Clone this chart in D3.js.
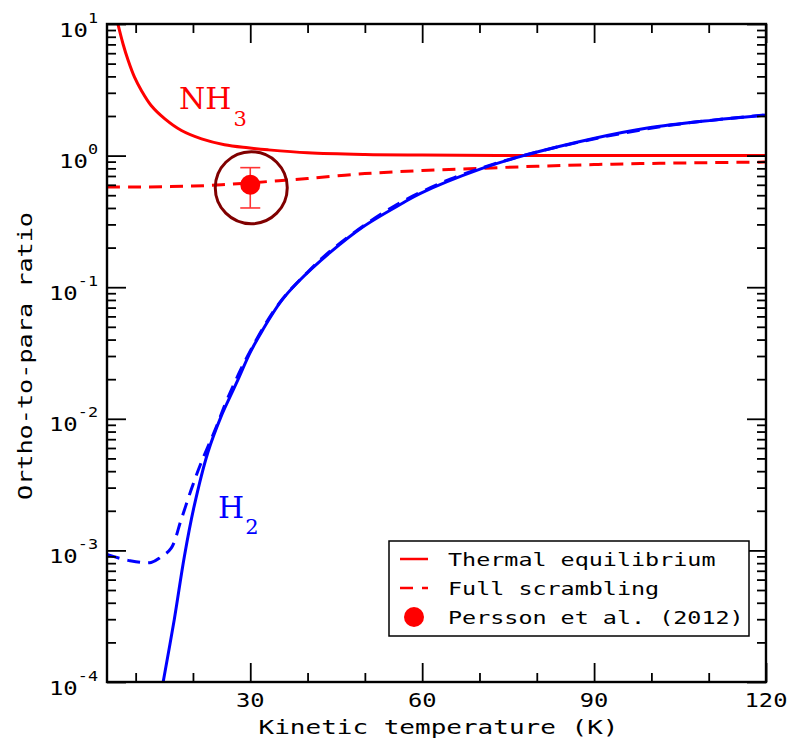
<!DOCTYPE html>
<html>
<head>
<meta charset="utf-8">
<script src="https://cdn.jsdelivr.net/npm/d3@7"></script>
<style>
  body { margin: 0; background: #fff; }
  text { font-family: 'DejaVu Sans Mono', monospace; }
</style>
</head>
<body>
<div id="chart"></div>
<script>
// NH3, thermal equilibrium (solid red)
const nh3ThermalT = [6.9, 7.8, 8.7, 9.8, 11, 12.7, 15.1, 18, 21.5, 25.5, 29.6, 33.1, 40, 50, 60, 80, 100, 120]
const nh3ThermalR = [10, 7.05, 5.27, 3.94, 3.12, 2.4, 1.9, 1.55, 1.34, 1.21, 1.146, 1.106, 1.05, 1.02, 1.01, 1.0, 1.0, 1.0]

// NH3, full scrambling (dashed red)
const nh3ScrambleT = [5, 10, 15, 20, 25, 30, 35, 40, 50, 60, 70, 80, 90, 100, 110, 120]
const nh3ScrambleR = [0.577, 0.577, 0.58, 0.587, 0.6, 0.62, 0.645, 0.67, 0.73, 0.77, 0.8, 0.83, 0.855, 0.872, 0.884, 0.893]

// H2, thermal equilibrium (solid blue)
const h2ThermalT = [14.8, 16.75, 18.5, 20.2, 22.6, 24.9, 26.5, 28, 30, 32.2, 35.2, 38.2, 43.9, 49.7, 56.7, 59.7, 70.1, 77.7, 89.9, 99.3, 110.8, 120]
const h2ThermalR = [1e-4, 3.0e-4, 9.0e-4, 2.16e-3, 5.55e-3, 0.0104, 0.0148, 0.0205, 0.032, 0.0476, 0.0764, 0.108, 0.183, 0.288, 0.438, 0.517, 0.79, 1.0, 1.35, 1.62, 1.86, 2.03]

// H2, full scrambling (dashed blue)
const h2ScrambleT = [5, 8.7, 12.7, 14.4, 16.2, 17.9, 19.7, 21.4, 23.9, 26.1, 30, 35, 40, 45, 55, 65, 75, 85, 95, 105, 120]
const h2ScrambleR = [9.3e-4, 8.4e-4, 8.1e-4, 8.9e-4, 1.04e-3, 1.69e-3, 2.9e-3, 4.6e-3, 8.3e-3, 0.0145, 0.0328, 0.075, 0.13, 0.205, 0.41, 0.665, 0.93, 1.2, 1.48, 1.74, 2.04]

// Persson et al. (2012)
const obsT = [30]
const obsR = [0.6]
const obsLow = [0.4]
const obsHigh = [0.81]

const xMajor = [30, 60, 90, 120]
const xMinor = [10, 20, 40, 50, 70, 80, 100, 110]
const yMajor = [1e-4, 1e-3, 1e-2, 1e-1, 1, 10]
const yExp = ['-4', '-3', '-2', '-1', '0', '1']
const yMinor = [-4, -3, -2, -1, 0].flatMap((e) => [2, 3, 4, 5, 6, 7, 8, 9].map((m) => m * Math.pow(10, e)))

const legendLabels = ['Thermal equilibrium', 'Full scrambling', 'Persson et al. (2012)']

const width = 791
const height = 740
const margin = { top: 24, right: 25, bottom: 58, left: 107 }

const x = d3.scaleLinear().domain([5, 120]).range([margin.left, width - margin.right])
const y = d3.scaleLog().domain([1e-4, 10]).range([height - margin.bottom, margin.top])

const svg = d3.select('#chart').append('svg').attr('width', width).attr('height', height)

svg
  .append('clipPath')
  .attr('id', 'plot')
  .append('rect')
  .attr('x', x(5))
  .attr('y', y(10))
  .attr('width', x(120) - x(5))
  .attr('height', y(1e-4) - y(10))

const line = d3
  .line()
  .x((d) => x(d[0]))
  .y((d) => y(d[1]))
  .curve(d3.curveCatmullRom.alpha(0.5))

const curves = [
  [nh3ThermalT, nh3ThermalR, '#ff0000', null],
  [nh3ScrambleT, nh3ScrambleR, '#ff0000', '13,8'],
  [h2ThermalT, h2ThermalR, '#0000ff', null],
  [h2ScrambleT, h2ScrambleR, '#0000ff', '13,8'],
]

const plot = svg.append('g').attr('clip-path', 'url(#plot)')

curves.forEach(([ts, rs, color, dash]) => {
  plot
    .append('path')
    .datum(d3.zip(ts, rs))
    .attr('fill', 'none')
    .attr('stroke', color)
    .attr('stroke-width', 3)
    .attr('stroke-dasharray', dash)
    .attr('d', line)
})

// highlight ring round the observed point
svg
  .append('circle')
  .attr('cx', x(obsT[0]) + 1)
  .attr('cy', y(0.57))
  .attr('r', 36)
  .attr('fill', 'none')
  .attr('stroke', '#800000')
  .attr('stroke-width', 3)

obsT.forEach((t, i) => {
  const g = svg.append('g').attr('stroke', '#ff3333').attr('stroke-width', 1.6)
  g.append('line').attr('x1', x(t)).attr('x2', x(t)).attr('y1', y(obsLow[i])).attr('y2', y(obsHigh[i]))
  g.append('line').attr('x1', x(t) - 10).attr('x2', x(t) + 10).attr('y1', y(obsLow[i])).attr('y2', y(obsLow[i]))
  g.append('line').attr('x1', x(t) - 10).attr('x2', x(t) + 10).attr('y1', y(obsHigh[i])).attr('y2', y(obsHigh[i]))
  svg.append('circle').attr('cx', x(t)).attr('cy', y(obsR[i])).attr('r', 10).attr('fill', '#ff0000')
})

// ticks on all four sides, pointing in
const drawTicks = (axis, transform, values, size) => {
  svg
    .append('g')
    .attr('transform', transform)
    .call(axis.tickValues(values).tickSize(size).tickFormat(() => ''))
    .call((g) => g.select('.domain').remove())
    .selectAll('line')
    .attr('stroke', '#000')
    .attr('stroke-width', 1.8)
}
const bottomY = height - margin.bottom
const rightX = width - margin.right
drawTicks(d3.axisBottom(x), `translate(0 ${bottomY})`, xMajor, -19)
drawTicks(d3.axisBottom(x), `translate(0 ${bottomY})`, xMinor, -9)
drawTicks(d3.axisTop(x), `translate(0 ${margin.top})`, xMajor, -19)
drawTicks(d3.axisTop(x), `translate(0 ${margin.top})`, xMinor, -9)
drawTicks(d3.axisLeft(y), `translate(${margin.left} 0)`, yMajor, -19)
drawTicks(d3.axisLeft(y), `translate(${margin.left} 0)`, yMinor, -9)
drawTicks(d3.axisRight(y), `translate(${rightX} 0)`, yMajor, -19)
drawTicks(d3.axisRight(y), `translate(${rightX} 0)`, yMinor, -9)

svg
  .append('rect')
  .attr('x', x(5))
  .attr('y', y(10))
  .attr('width', x(120) - x(5))
  .attr('height', y(1e-4) - y(10))
  .attr('fill', 'none')
  .attr('stroke', '#000')
  .attr('stroke-width', 2.4)

// tick labels
svg
  .selectAll('.xlab')
  .data(xMajor)
  .join('text')
  .attr('transform', (d) => `translate(${x(d)} 707) scale(1.25 1)`)
  .attr('text-anchor', 'middle')
  .attr('font-size', 19)
  .text((d) => d)

const ylab = svg
  .selectAll('.ylab')
  .data(yMajor)
  .join('text')
  .attr('transform', (d) => `translate(98 ${y(d) + 12.5}) scale(1.2 1)`)
  .attr('text-anchor', 'end')
  .attr('font-size', 20)
ylab.append('tspan').text('10')
ylab
  .append('tspan')
  .attr('font-size', 14)
  .attr('dy', -14)
  .text((d, i) => yExp[i])

// axis titles
svg
  .append('text')
  .attr('transform', `translate(${(x(5) + x(120)) / 2 + 2} 734) scale(1.3 1)`)
  .attr('text-anchor', 'middle')
  .attr('font-size', 20)
  .text('Kinetic temperature (K)')

svg
  .append('text')
  .attr('transform', `translate(32 356) rotate(-90) scale(1.26 1)`)
  .attr('text-anchor', 'middle')
  .attr('font-size', 20)
  .text('Ortho-to-para ratio')

// species labels
const nh3 = svg
  .append('text')
  .attr('x', 179)
  .attr('y', 109)
  .attr('fill', '#ff0000')
  .style('font-family', "'DejaVu Serif', serif")
  .attr('font-size', 30)
nh3.append('tspan').text('NH')
nh3.append('tspan').attr('font-size', 21).attr('dy', 17).attr('dx', 2).text('3')

const h2 = svg
  .append('text')
  .attr('x', 218)
  .attr('y', 518)
  .attr('fill', '#0000ff')
  .style('font-family', "'DejaVu Serif', serif")
  .attr('font-size', 30)
h2.append('tspan').text('H')
h2.append('tspan').attr('font-size', 21).attr('dy', 16).attr('dx', 1).text('2')

// legend
const legend = svg.append('g')
legend
  .append('rect')
  .attr('x', 389)
  .attr('y', 541)
  .attr('width', 360)
  .attr('height', 95)
  .attr('fill', '#fff')
  .attr('stroke', '#000')
  .attr('stroke-width', 1.5)

const rowY = [559, 588, 617]
legend.append('line').attr('x1', 400).attr('x2', 428).attr('y1', rowY[0]).attr('y2', rowY[0]).attr('stroke', '#ff0000').attr('stroke-width', 2.5)
legend
  .append('line')
  .attr('x1', 400)
  .attr('x2', 428)
  .attr('y1', rowY[1])
  .attr('y2', rowY[1])
  .attr('stroke', '#ff0000')
  .attr('stroke-width', 2.5)
  .attr('stroke-dasharray', '13,9')
legend.append('circle').attr('cx', 414).attr('cy', rowY[2]).attr('r', 10).attr('fill', '#ff0000')

legend
  .selectAll('.leg')
  .data(legendLabels)
  .join('text')
  .attr('transform', (d, i) => `translate(448 ${rowY[i] + 6.5}) scale(1.3 1)`)
  .attr('font-size', 18)
  .text((d) => d)
</script>
</body>
</html>
